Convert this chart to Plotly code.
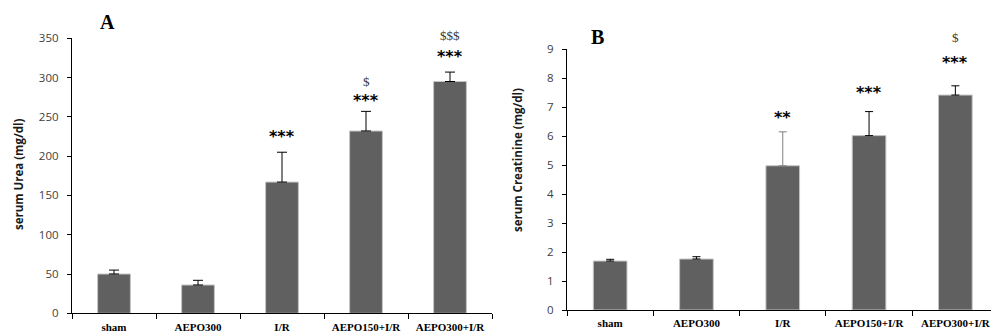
import plotly.graph_objects as go

categories = ["sham", "AEPO300", "I/R", "AEPO150+I/R", "AEPO300+I/R"]

urea_mean = [50, 36, 167, 232, 295]
urea_err = [5, 6, 38, 25, 12]
urea_stars = ["", "", "***", "***", "***"]
urea_stars_y = [None, None, 227, 273.5, 329.5]
urea_dollar = ["", "", "", "$", "$$$"]
urea_dollar_y = [None, None, None, 295.5, 354]

creat_mean = [1.69, 1.76, 4.98, 6.02, 7.42]
creat_err = [0.06, 0.08, 1.17, 0.83, 0.32]
creat_stars = ["", "", "**", "***", "***"]
creat_stars_y = [None, None, 6.73, 7.59, 8.63]
creat_dollar = ["", "", "", "", "$"]
creat_dollar_y = [None, None, None, None, 9.42]

urea_ticks = [0, 50, 100, 150, 200, 250, 300, 350]
creat_ticks = list(range(0, 10))

BAR = "#606060"
BAR_EDGE = "#c4c4c4"
creat_err_colors = ["black", "black", "#7f7f7f", "black", "black"]

W, H = 991, 332
A_dom_y = [1 - 313.3 / H, 1 - 38.3 / H]
B_dom_y = [1 - 310 / H, 1 - 49.3 / H]
A_range = [0, 350]
B_range = [0, 9]

fig = go.Figure()

# Panel A bars
fig.add_trace(go.Bar(x=categories, y=urea_mean, width=0.39,
                     marker=dict(color=BAR, line=dict(color=BAR_EDGE, width=1)),
                     xaxis="x", yaxis="y", showlegend=False, hoverinfo="skip"))
fig.add_trace(go.Scatter(x=categories, y=urea_mean, mode="markers",
                         marker=dict(size=1, color="rgba(0,0,0,0)"),
                         error_y=dict(type="data", symmetric=False, array=urea_err,
                                      arrayminus=[0] * len(urea_err), color="black",
                                      thickness=1, width=5),
                         xaxis="x", yaxis="y", showlegend=False, hoverinfo="skip"))

# Panel B bars
fig.add_trace(go.Bar(x=categories, y=creat_mean, width=0.39,
                     marker=dict(color=BAR, line=dict(color=BAR_EDGE, width=1)),
                     xaxis="x2", yaxis="y2", showlegend=False, hoverinfo="skip"))
for i, c in enumerate(categories):
    fig.add_trace(go.Scatter(x=[c], y=[creat_mean[i]], mode="markers",
                             marker=dict(size=1, color="rgba(0,0,0,0)"),
                             error_y=dict(type="data", symmetric=False, array=[creat_err[i]],
                                          arrayminus=[0], color=creat_err_colors[i],
                                          thickness=1, width=4),
                             xaxis="x2", yaxis="y2", showlegend=False, hoverinfo="skip"))


def place(val, rng, dom):
    """Keep the anchor inside the axis range, shift the rest in pixels."""
    px_per_unit = (dom[1] - dom[0]) * H / (rng[1] - rng[0])
    y = min(val, rng[1])
    return y, (val - y) * px_per_unit


ann = []
star_font = dict(family="DejaVu Sans", size=16, color="black")
dollar_font = dict(family="Liberation Serif", size=13, color="#3a3530")
for xr, yr, stars, sy, dol, dy, rng, dom in [
        ("x", "y", urea_stars, urea_stars_y, urea_dollar, urea_dollar_y, A_range, A_dom_y),
        ("x2", "y2", creat_stars, creat_stars_y, creat_dollar, creat_dollar_y, B_range, B_dom_y)]:
    for i, c in enumerate(categories):
        if stars[i]:
            y, sh = place(sy[i], rng, dom)
            ann.append(dict(x=c, y=y, xref=xr, yref=yr, text="<b>" + stars[i] + "</b>",
                            showarrow=False, font=star_font, yanchor="middle", yshift=sh - 2))
        if dol[i]:
            y, sh = place(dy[i], rng, dom)
            ann.append(dict(x=c, y=y, xref=xr, yref=yr, text=dol[i].replace("$", "&#36;"),
                            showarrow=False, font=dollar_font, yanchor="middle", yshift=sh))

title_font = dict(family="Open Sans", size=11.5, color="#1a1a1a")
ann.append(dict(x=18 / W, y=1 - 175 / H, xref="paper", yref="paper",
                text="<b>serum Urea (mg/dl)</b>", textangle=-90, showarrow=False,
                font=title_font, xanchor="center", yanchor="middle"))
ann.append(dict(x=517 / W, y=1 - 160 / H, xref="paper", yref="paper",
                text="<b>serum Creatinine (mg/dl)</b>", textangle=-90, showarrow=False,
                font=title_font, xanchor="center", yanchor="middle"))
panel_font = dict(family="Liberation Serif", size=20, color="black")
ann.append(dict(x=107 / W, y=1 - 21.7 / H, xref="paper", yref="paper", text="<b>A</b>",
                showarrow=False, font=panel_font, xanchor="center", yanchor="middle"))
ann.append(dict(x=597.5 / W, y=1 - 37 / H, xref="paper", yref="paper", text="<b>B</b>",
                showarrow=False, font=panel_font, xanchor="center", yanchor="middle"))

xaxis_common = dict(type="category", showline=True, linecolor="black", linewidth=1.3,
                    ticks="outside", ticklen=5, tickcolor="black", tickwidth=1,
                    tickson="boundaries", showgrid=False, zeroline=False, automargin=False,
                    tickfont=dict(family="Liberation Serif", size=11, color="black",
                                  weight="bold"),
                    ticklabelstandoff=3, fixedrange=True)
yaxis_common = dict(showline=True, linecolor="black", linewidth=1.3, ticks="outside",
                    ticklen=4, tickcolor="black", tickwidth=1, showgrid=False,
                    zeroline=False, automargin=False,
                    tickfont=dict(family="Open Sans", size=11.5, color="#404040"),
                    ticklabelstandoff=6, fixedrange=True)

fig.update_layout(
    width=W, height=H,
    margin=dict(l=0, r=0, t=0, b=0, autoexpand=False),
    paper_bgcolor="white", plot_bgcolor="white",
    barmode="overlay",
    xaxis=dict(domain=[72 / W, 492 / W], range=[-0.5, 4.5], anchor="y", **xaxis_common),
    yaxis=dict(domain=A_dom_y, range=A_range, tickvals=urea_ticks, anchor="x", **yaxis_common),
    xaxis2=dict(domain=[567 / W, 1.0], range=[-0.5, 4.413], anchor="y2", **xaxis_common),
    yaxis2=dict(domain=B_dom_y, range=B_range, tickvals=creat_ticks, anchor="x2", **yaxis_common),
    annotations=ann,
)

fig.write_html("out.html", config={"displayModeBar": False},
               post_script="document.body.style.margin='0';document.body.style.overflow='hidden';")
